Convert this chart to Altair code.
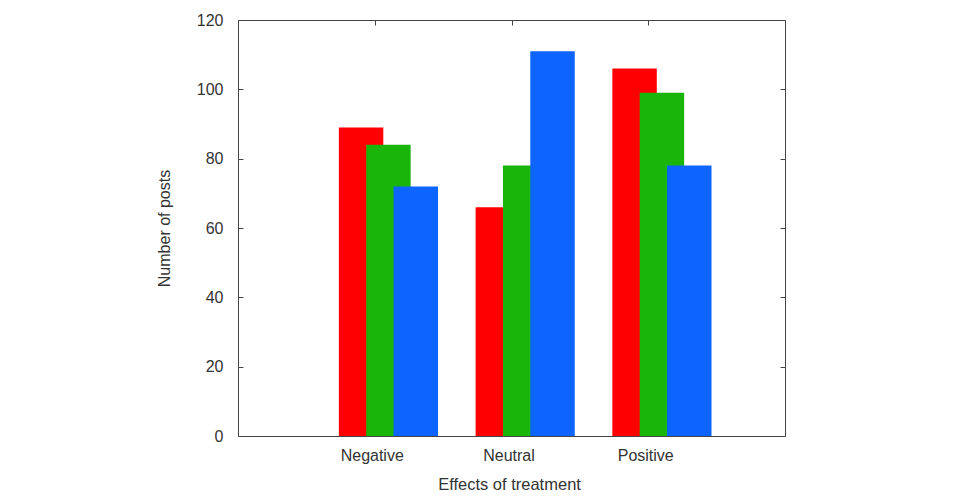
import json
import altair as alt
import pandas as pd

categories = ["Negative", "Neutral", "Positive"]
series = ["Series 1", "Series 2", "Series 3"]
values_s1 = [89, 66, 106]
values_s2 = [84, 78, 99]
values_s3 = [72, 111, 78]
colors = ["#ff0000", "#19b50a", "#0d64ff"]
y_ticks = [0, 20, 40, 60, 80, 100, 120]

rows = []
for si, (name, vals) in enumerate(zip(series, [values_s1, values_s2, values_s3])):
    for ci, (cat, v) in enumerate(zip(categories, vals)):
        rows.append({"category": cat, "cat_index": ci, "series": name,
                     "series_index": si, "value": v})
df = pd.DataFrame(rows)

FONT = "Liberation Sans"
TXT = "#333333"
label_expr = json.dumps(categories) + "[datum.value]"

xscale = alt.Scale(domain=[-1, 3], nice=False, zero=False)
yscale = alt.Scale(domain=[0, 120], nice=False)

base = alt.Chart(df).transform_calculate(
    center="datum.cat_index - 0.1 + 0.2 * datum.series_index",
).transform_calculate(
    x0="datum.center - 0.1625",
    x1="datum.center + 0.1625",
)

bars = base.mark_rect().encode(
    x=alt.X("x0:Q", scale=xscale,
            axis=alt.Axis(orient="bottom", values=[0, 1, 2], labelExpr=label_expr,
                          title="Effects of treatment", domain=False, grid=False,
                          tickSize=5, offset=-5, labelPadding=11, titlePadding=13,
                          labelOffset=-3, titleX=271,
                          tickColor="#444", labelFont=FONT, titleFont=FONT,
                          labelFontSize=16, titleFontSize=16.5, labelColor=TXT,
                          titleColor=TXT, titleFontWeight="normal")),
    x2="x1:Q",
    y=alt.Y("value:Q", scale=yscale,
            axis=alt.Axis(orient="left", values=y_ticks, title="Number of posts",
                          domain=False, grid=False, tickSize=5, offset=-5,
                          labelPadding=15, titlePadding=24, tickColor="#444",
                          labelFont=FONT, titleFont=FONT, labelFontSize=16,
                          titleFontSize=16, labelColor=TXT, titleColor=TXT,
                          titleFontWeight="normal")),
    y2=alt.datum(0),
    color=alt.Color("series:N", scale=alt.Scale(domain=series, range=colors), legend=None),
    order=alt.Order("series_index:Q"),
)

mirror = base.mark_point(opacity=0).encode(
    x=alt.X("center:Q", scale=xscale,
            axis=alt.Axis(orient="top", values=[0, 1, 2], labels=False, title=None,
                          domain=False, grid=False, tickSize=5, offset=-5,
                          tickColor="#444")),
    y=alt.Y("value:Q", scale=yscale,
            axis=alt.Axis(orient="right", values=y_ticks, labels=False, title=None,
                          domain=False, grid=False, tickSize=5, offset=-5,
                          tickColor="#444")),
)

chart = alt.layer(bars, mirror).resolve_axis(x="independent", y="independent").properties(
    width=547, height=416,
    padding={"left": 230, "top": 12, "right": 174, "bottom": 56},
    autosize=alt.AutoSizeParams(type="none"),
    background="white",
).configure_view(stroke="#444444", strokeWidth=1)

chart.save("out.html", embed_options={"renderer": "svg", "actions": False})
